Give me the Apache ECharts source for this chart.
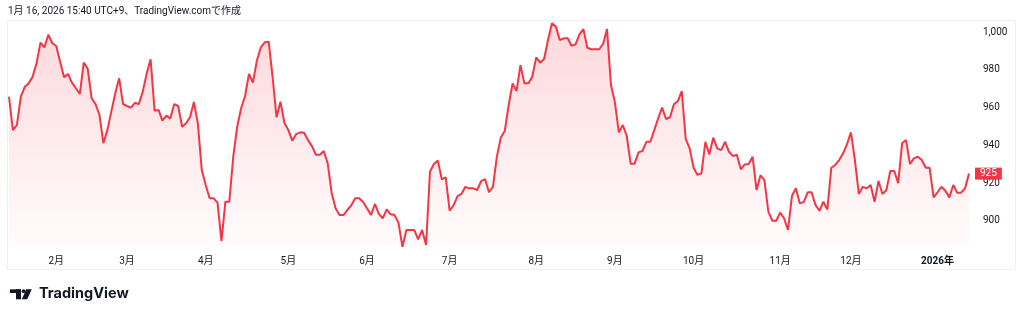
<!DOCTYPE html>
<html><head><meta charset="utf-8">
<script src="https://cdn.jsdelivr.net/npm/echarts@6/dist/echarts.min.js"></script>
<style>html,body{margin:0;padding:0;background:#fff;}#c{width:1024px;height:319px;}</style>
</head><body><div id="c"></div>
<script>
// Trading days (Tokyo market), grouped by year-month
const tradingDays = {
  '2025-01': [16,17,20,21,22,23,24,27,28,29,30,31],
  '2025-02': [3,4,5,6,7,10,12,13,14,17,18,19,20,21,25,26,27,28],
  '2025-03': [3,4,5,6,7,10,11,12,13,14,17,18,19,21,24,25,26,27,28,31],
  '2025-04': [1,2,3,4,7,8,9,10,11,14,15,16,17,18,21,22,23,24,25,28,30],
  '2025-05': [1,2,7,8,9,12,13,14,15,16,19,20,21,22,23,26,27,28,29,30],
  '2025-06': [2,3,4,5,6,9,10,11,12,13,16,17,18,19,20,23,24,25,26,27,30],
  '2025-07': [1,2,3,4,7,8,9,10,11,14,15,16,17,18,22,23,24,25,28,29,30,31],
  '2025-08': [1,4,5,6,7,8,12,13,14,15,18,19,20,21,22,25,26,27,28,29],
  '2025-09': [1,2,3,4,5,8,9,10,11,12,16,17,18,19,22,24,25,26,29,30],
  '2025-10': [1,2,3,6,7,8,9,10,14,15,16,17,20,21,22,23,24,27,28,29,30,31],
  '2025-11': [4,5,6,7,10,11,12,13,14,17,18,19,20,21,25,26,27,28],
  '2025-12': [1,2,3,4,5,8,9,10,11,12,15,16,17,18,19,22,23,24,25,26,29,30],
  '2026-01': [5,6,7,8,9,13,14,15,16]
};
// Close values, one per trading day
const closes2025H1 = [
  965.8,948.1,950.8,965.8,971.1,972.9,976.4,983.5,994.5,992.0,998.7,994.2,992.7,984.4,976.1,977.9,973.3,970.3,967.3,983.9,
  980.7,965.0,961.9,956.1,941.1,948.1,957.9,967.6,975.6,961.9,960.9,960.0,962.6,961.9,968.5,978.2,985.7,958.4,958.8,953.1,
  955.8,954.2,961.9,960.9,949.9,951.7,954.9,963.0,951.7,926.9,918.9,911.9,911.9,909.6,889.2,910.1,910.1,934.0,949.9,959.7,
  966.2,977.9,973.3,985.0,992.0,994.7,995.0,976.4,954.9,963.2,952.0,948.1,942.5,946.0,946.9,946.7,942.8,939.6,935.0,935.0,
  937.0,930.5,914.9,906.6,903.0,903.0,905.7,908.2,911.9,911.9,909.9,906.6,903.0,908.9,903.6,901.3,906.0,903.4,903.0,898.9,
  886.2,895.1,895.1,895.1,890.1,895.1,887.1,926.0,930.1,931.9,922.0,923.0
];
const closes2025H2 = [
  905.3,908.2,913.1,914.2,918.0,917.2,917.2,916.3,921.0,922.1,915.1,918.0,934.0,944.1,947.6,961.4,972.9,968.8,982.6,972.9,
  972.9,976.4,986.7,983.9,985.8,995.9,1004.8,1003.0,995.9,996.8,996.8,992.9,993.6,998.9,1001.7,991.8,991.0,991.0,991.0,993.8,
  1001.7,972.0,962.8,946.9,950.8,945.1,930.3,930.3,936.3,937.0,941.9,941.9,948.1,954.4,960.0,954.0,954.9,961.8,963.5,968.8,
  943.4,938.4,928.1,924.3,925.2,941.9,935.2,944.1,938.4,937.5,941.9,936.6,934.3,935.0,927.3,929.9,930.1,934.0,916.3,924.1,
  921.6,904.8,900.0,900.0,904.3,901.3,895.1,913.1,917.2,909.2,909.9,915.1,915.1,908.3,905.3,910.1,906.0,928.1,929.6,932.2,
  935.8,940.7,946.9,932.2,914.2,918.0,917.2,919.0,910.1,921.1,914.2,916.3,926.4,926.4,919.9,941.1,942.8,930.1,933.1,934.0,
  932.2,928.1,928.1,912.4,915.1,918.0,915.9,912.4,919.0,914.9,914.9,917.2,925.0
];
const yTicks = [900, 920, 940, 960, 980, 1000];
const titleText = '1月 16, 2026 15:40 UTC+9、TradingView.comで作成';
const brandText = 'TradingView';

const values = closes2025H1.concat(closes2025H2);
const categories = [];
const monthStart = new Set();
Object.keys(tradingDays).forEach(function (ym) {
  tradingDays[ym].forEach(function (d, k) {
    if (k === 0 && ym !== '2025-01') monthStart.add(categories.length);
    categories.push(ym + '-' + String(d).padStart(2, '0'));
  });
});

const RED = '#F23645';
const TXT = '#131722';
const FONT = 'Roboto, "Noto Sans CJK JP", sans-serif';

const chart = echarts.init(document.getElementById('c'), null, {renderer: 'canvas'});
chart.setOption({
  animation: false,
  backgroundColor: '#ffffff',
  textStyle: {fontFamily: FONT},
  grid: {left: 9, right: 55, top: 21, bottom: 70, containLabel: false},
  xAxis: {
    type: 'category', data: categories, boundaryGap: false,
    axisLine: {show: false}, axisTick: {show: false}, splitLine: {show: false},
    axisLabel: {
      interval: function (i) { return monthStart.has(i); },
      margin: 7, fontSize: 10, color: TXT, fontFamily: FONT,
      formatter: function (v) {
        const p = v.split('-');
        return p[1] === '01' ? '{b|' + p[0] + '年}' : (+p[1]) + '月';
      },
      rich: {b: {fontSize: 10, fontWeight: 'bold', color: TXT, fontFamily: FONT}}
    }
  },
  yAxis: {
    type: 'value', position: 'right', min: 885, max: 1006, scale: true,
    axisLine: {show: false}, axisTick: {show: false}, splitLine: {show: false},
    axisLabel: {
      customValues: yTicks, margin: 14, align: 'left', fontSize: 10, color: TXT, fontFamily: FONT,
      formatter: function (v) { return v.toLocaleString('en-US'); }
    }
  },
  series: [{
    type: 'line', data: values, symbol: 'none', showSymbol: false, clip: false,
    lineStyle: {color: RED, width: 2},
    areaStyle: {
      origin: 'start',
      color: new echarts.graphic.LinearGradient(0, 0, 0, 1, [
        {offset: 0, color: 'rgba(242,54,69,0.28)'},
        {offset: 1, color: 'rgba(242,54,69,0.02)'}
      ])
    },
    markLine: {
      silent: true, symbol: 'none', animation: false,
      lineStyle: {color: 'rgba(242,54,69,0)', width: 0.01, type: 'solid'},
      data: [{yAxis: values[values.length - 1]}],
      label: {
        show: true, position: 'end', distance: 6, opacity: 1,
        formatter: function (p) { return Math.round(p.value).toString(); },
        backgroundColor: RED, color: '#ffffff', fontSize: 10, fontFamily: FONT,
        padding: [1, 5, 1, 5]
      }
    }
  }],
  graphic: [
    {type: 'rect', silent: true, z: -1,
     shape: {x: 7.5, y: 20.5, width: 1008, height: 249},
     style: {fill: 'none', stroke: '#eef0f3', lineWidth: 1}},
    {type: 'text', left: 8, top: 7,
     style: {text: titleText, fontSize: 10, fill: TXT, fontFamily: FONT}},
    {type: 'rect', shape: {x: 10, y: 289.3, width: 11, height: 3.7}, style: {fill: TXT}},
    {type: 'rect', shape: {x: 16, y: 289.3, width: 5, height: 10}, style: {fill: TXT}},
    {type: 'circle', shape: {cx: 23.6, cy: 291.2, r: 1.9}, style: {fill: TXT}},
    {type: 'polygon', shape: {points: [[26.3, 289.3], [31.8, 289.3], [27.2, 299.3], [21.8, 299.3]]}, style: {fill: TXT}},
    {type: 'text', left: 39, top: 286,
     style: {text: brandText, fontSize: 14.5, fontWeight: 'bold', fill: TXT, fontFamily: 'Inter, Roboto, sans-serif'}}
  ]
});
</script>
</body></html>
